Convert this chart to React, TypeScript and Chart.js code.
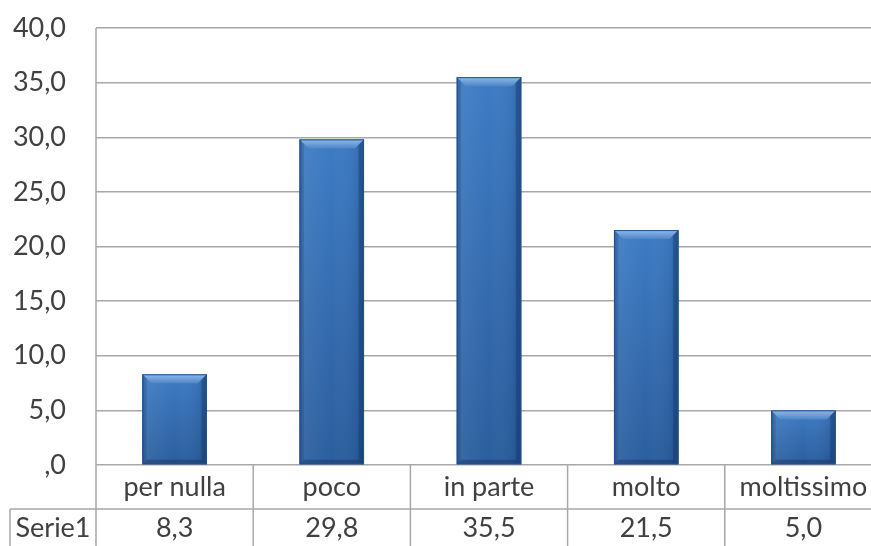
import React, { useEffect, useRef } from "react";
import { Chart, registerables } from "chart.js";

Chart.register(...registerables);

const categories = ["per nulla", "poco", "in parte", "molto", "moltissimo"];
const values = [8.3, 29.8, 35.5, 21.5, 5.0];
const valueLabels = ["8,3", "29,8", "35,5", "21,5", "5,0"];
const seriesName = "Serie1";
const yTickLabels = [",0", "5,0", "10,0", "15,0", "20,0", "25,0", "30,0", "35,0", "40,0"];

const FONT = "Lato, 'Open Sans', sans-serif";
const FONT_SIZE = 27;
const TEXT_COLOR = "#404040";
const LINE_COLOR = "#a8a8a8";

const barBevelPlugin = {
  id: "barBevel",
  afterDatasetsDraw(chart: any) {
    const ctx = chart.ctx as CanvasRenderingContext2D;
    const meta = chart.getDatasetMeta(0);
    meta.data.forEach((el: any) => {
      const w = el.width;
      const l = el.x - w / 2;
      const r = el.x + w / 2;
      const t = Math.min(el.y, el.base);
      const b = Math.max(el.y, el.base);
      const h = b - t;
      const bev = Math.min(9, h / 3);
      ctx.save();
      // vertical body gradient (brighter top, darker bottom)
      const vg = ctx.createLinearGradient(0, t, 0, b);
      vg.addColorStop(0, "#3d7bc3");
      vg.addColorStop(1, "#2b5e9e");
      ctx.fillStyle = vg;
      ctx.fillRect(l, t, w, h);
      // horizontal shading for edges
      const hg = ctx.createLinearGradient(l, 0, r, 0);
      hg.addColorStop(0, "rgba(10,30,70,0.25)");
      hg.addColorStop(0.1, "rgba(255,255,255,0.06)");
      hg.addColorStop(0.5, "rgba(255,255,255,0)");
      hg.addColorStop(0.88, "rgba(10,30,70,0.08)");
      hg.addColorStop(1, "rgba(10,30,70,0.3)");
      ctx.fillStyle = hg;
      ctx.fillRect(l, t, w, h);
      // top bevel
      const tg = ctx.createLinearGradient(0, t, 0, t + bev);
      tg.addColorStop(0, "#8dbaeb");
      tg.addColorStop(1, "#4f86c9");
      ctx.fillStyle = tg;
      ctx.beginPath();
      ctx.moveTo(l, t);
      ctx.lineTo(r, t);
      ctx.lineTo(r - bev, t + bev);
      ctx.lineTo(l + bev, t + bev);
      ctx.closePath();
      ctx.fill();
      // right bevel
      ctx.fillStyle = "rgba(20,50,100,0.35)";
      ctx.beginPath();
      ctx.moveTo(r, t);
      ctx.lineTo(r, b);
      ctx.lineTo(r - bev * 0.6, b - bev * 0.6);
      ctx.lineTo(r - bev * 0.6, t + bev * 0.6);
      ctx.closePath();
      ctx.fill();
      // left bevel
      ctx.fillStyle = "rgba(30,70,130,0.25)";
      ctx.beginPath();
      ctx.moveTo(l, t);
      ctx.lineTo(l + bev * 0.5, t + bev * 0.5);
      ctx.lineTo(l + bev * 0.5, b - bev * 0.5);
      ctx.lineTo(l, b);
      ctx.closePath();
      ctx.fill();
      // bottom bevel
      ctx.fillStyle = "rgba(15,40,80,0.35)";
      ctx.beginPath();
      ctx.moveTo(l, b);
      ctx.lineTo(r, b);
      ctx.lineTo(r - bev * 0.5, b - bev * 0.5);
      ctx.lineTo(l + bev * 0.5, b - bev * 0.5);
      ctx.closePath();
      ctx.fill();
      ctx.strokeStyle = "#24508a";
      ctx.lineWidth = 1;
      ctx.strokeRect(l + 0.5, t + 0.5, w - 1, h - 1);
      ctx.restore();
    });
  },
};

const dataTablePlugin = {
  id: "dataTable",
  afterDraw(chart: any) {
    const ctx = chart.ctx as CanvasRenderingContext2D;
    const area = chart.chartArea;
    const xs = chart.scales.x;
    const H = chart.height;
    const rowTop = area.bottom;
    const rowMid = rowTop + 44;
    const boxLeft = 10;
    ctx.save();
    ctx.strokeStyle = LINE_COLOR;
    ctx.lineWidth = 1.5;
    ctx.beginPath();
    ctx.moveTo(area.left, area.top);
    ctx.lineTo(area.left, H);
    ctx.moveTo(boxLeft, rowMid);
    ctx.lineTo(area.right, rowMid);
    ctx.moveTo(boxLeft, rowMid);
    ctx.lineTo(boxLeft, H);
    for (let i = 1; i <= categories.length; i++) {
      const x = i < categories.length
        ? (xs.getPixelForValue(i - 1) + xs.getPixelForValue(i)) / 2
        : area.right;
      ctx.moveTo(x, rowTop);
      ctx.lineTo(x, H);
    }
    ctx.stroke();
    ctx.fillStyle = TEXT_COLOR;
    ctx.font = `${FONT_SIZE}px ${FONT}`;
    ctx.textAlign = "center";
    ctx.textBaseline = "middle";
    const valY = (rowMid + H) / 2 + 1;
    valueLabels.forEach((lab, i) => {
      ctx.fillText(lab, xs.getPixelForValue(i), valY);
    });
    ctx.fillText(seriesName, (boxLeft + area.left) / 2, valY);
    ctx.restore();
  },
};

export default function App() {
  const ref = useRef<HTMLCanvasElement | null>(null);
  useEffect(() => {
    if (!ref.current) return;
    const chart = new Chart(ref.current, {
      type: "bar",
      data: {
        labels: categories,
        datasets: [
          {
            label: seriesName,
            data: values,
            backgroundColor: "#3a72b6",
            categoryPercentage: 1,
            barPercentage: 0.41,
          },
        ],
      },
      options: {
        responsive: false,
        animation: false,
        layout: { autoPadding: false, padding: { top: 28, right: 18, left: 0, bottom: 0 } },
        plugins: { legend: { display: false }, tooltip: { enabled: false } },
        scales: {
          y: {
            min: 0,
            max: 40,
            ticks: {
              stepSize: 5,
              padding: 30,
              color: TEXT_COLOR,
              font: { family: FONT, size: FONT_SIZE },
              callback: (_v: any, i: number) => yTickLabels[i],
            },
            grid: { color: LINE_COLOR, lineWidth: 1.5, drawTicks: false },
            border: { display: false },
            afterFit: (s: any) => {
              s.width = 96;
              s.paddingTop = 0;
              s.paddingBottom = 0;
            },
          },
          x: {
            ticks: {
              padding: 6,
              color: TEXT_COLOR,
              font: { family: FONT, size: FONT_SIZE },
              maxRotation: 0,
              autoSkip: false,
            },
            grid: { display: false, drawTicks: false },
            border: { display: false },
            afterFit: (s: any) => {
              s.height = 81;
              s.paddingLeft = 0;
              s.paddingRight = 0;
            },
          },
        },
      },
      plugins: [barBevelPlugin, dataTablePlugin],
    });
    return () => chart.destroy();
  }, []);
  return (
    <div
      style={{
        position: "absolute",
        left: 0,
        top: 0,
        width: 871,
        height: 546,
        overflow: "hidden",
        background: "#ffffff",
      }}
    >
      <canvas ref={ref} width={900} height={546} style={{ display: "block" }} />
    </div>
  );
}
